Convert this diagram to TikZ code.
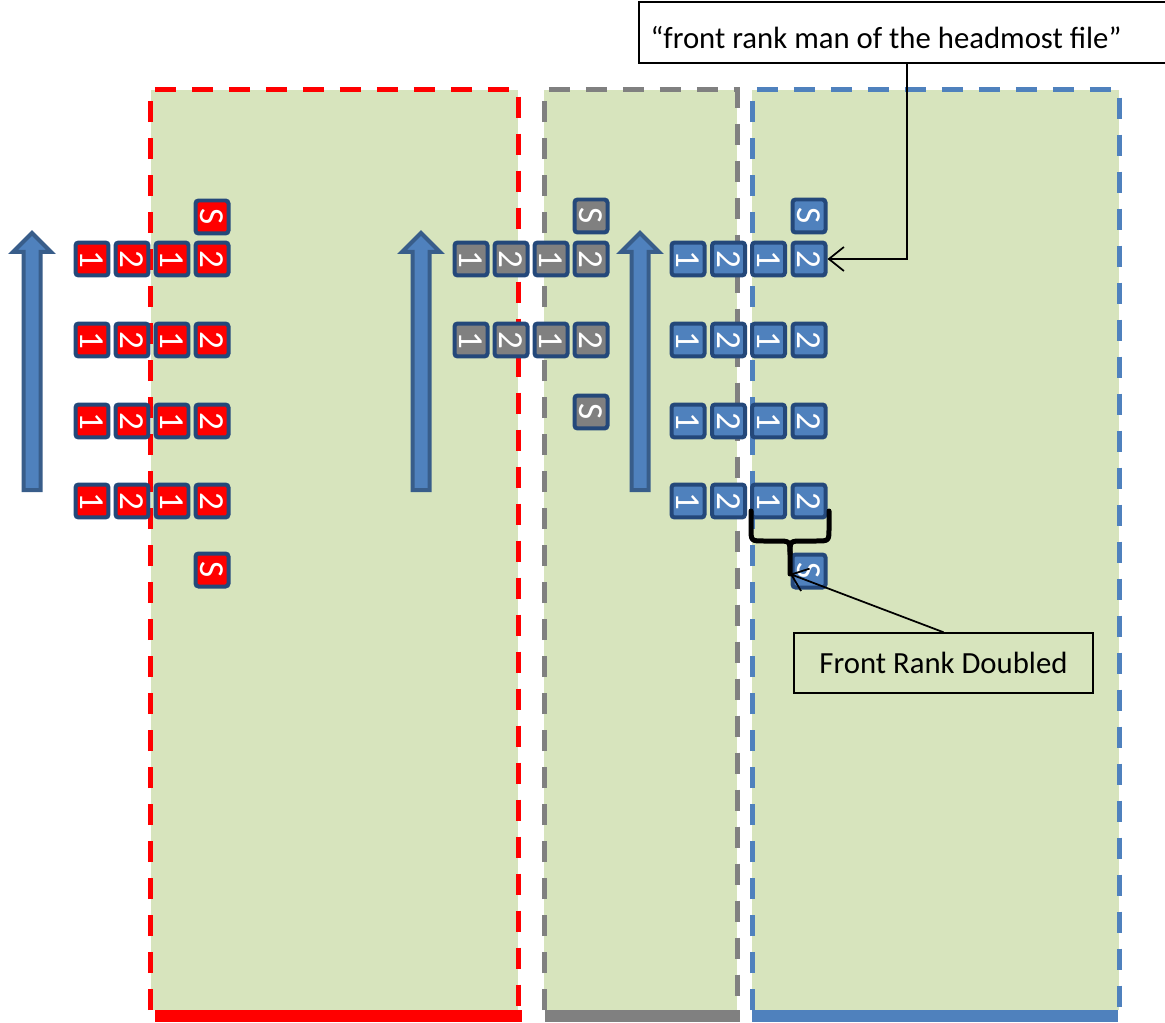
\documentclass[tikz,border=0pt]{standalone}
\usepackage{fontspec}
\setmainfont{Carlito}
\usetikzlibrary{arrows.meta}
\definecolor{grn}{HTML}{D7E4BD}
\definecolor{navy}{RGB}{36,72,122}
\definecolor{myblue}{HTML}{4F81BD}
\definecolor{mygray}{HTML}{808080}
\definecolor{arredge}{HTML}{385D8A}
\begin{document}
\begin{tikzpicture}[x=0.02cm,y=-0.02cm,
  sq/.style={draw=navy, line width=0.08cm, rounded corners=0.06cm, minimum size=0.66cm,
    inner sep=0pt, text=white, font=\fontsize{20}{20}\selectfont, rotate=-90},
  redsq/.style={sq, fill=red},
  graysq/.style={sq, fill=mygray},
  bluesq/.style={sq, fill=myblue},
  zonedash/.style={line width=0.1cm, dash pattern=on 0.42cm off 0.32cm},
  blockarr/.style={fill=myblue, draw=arredge, line width=0.08cm, line join=miter},
  label/.style={draw=black, line width=0.03cm, font=\fontsize{17.5}{20}\selectfont, inner sep=0pt},
  conn/.style={draw=black, line width=0.035cm, -{Straight Barb[length=0.3cm, width=0.48cm]}}
]
\useasboundingbox (0,0) rectangle (1165,1023);
\fill[white] (0,0) rectangle (1165,1023);

% zones
\fill[grn] (151,90) rectangle (518,1010);
\fill[grn] (544,90) rectangle (737,1010);
\fill[grn] (752,90) rectangle (1119,1010);
\draw[zonedash, red] (150,1010) -- (150,90) -- (518,90) -- (518,1010);
\draw[zonedash, mygray] (544,1010) -- (544,90) -- (737,90) -- (737,1010);
\draw[zonedash, myblue] (752,1010) -- (752,90) -- (1119,90) -- (1119,1010);
\fill[red] (155,1010) rectangle (522,1022);
\fill[mygray] (545,1010) rectangle (740,1022);
\fill[myblue] (752,1010) rectangle (1118,1022);

% block arrows
\foreach \c in {32,421,640}{
  \draw[blockarr] (\c,233) -- (\c+19,252) -- (\c+8.5,252) -- (\c+8.5,490)
     -- (\c-8.5,490) -- (\c-8.5,252) -- (\c-19,252) -- cycle;
}

% red group
\foreach \row/\y in {1/259,2/340,3/421,4/501}{
  \node[redsq] (r\row1) at (92,\y) {1};
  \node[redsq] (r\row2) at (132,\y) {2};
  \node[redsq] (r\row3) at (172,\y) {1};
  \node[redsq] (r\row4) at (212,\y) {2};
}
\node[redsq] (rS1) at (212,217) {S};
\node[redsq] (rS2) at (212,570) {S};

% gray group
\foreach \row/\y in {1/259,2/340}{
  \node[graysq] (g\row1) at (471,\y) {1};
  \node[graysq] (g\row2) at (511,\y) {2};
  \node[graysq] (g\row3) at (551,\y) {1};
  \node[graysq] (g\row4) at (591,\y) {2};
}
\node[graysq] (gS1) at (591,216) {S};
\node[graysq] (gS2) at (591,412) {S};

% blue group
\foreach \row/\y in {1/259,2/340,3/421,4/501}{
  \node[bluesq] (b\row1) at (688,\y) {1};
  \node[bluesq] (b\row2) at (728.5,\y) {2};
  \node[bluesq] (b\row3) at (768.5,\y) {1};
  \node[bluesq] (b\row4) at (809,\y) {2};
}
\node[bluesq] (bS1) at (809,216) {S};
\node[bluesq] (bS2) at (809,571) {S};

% brace
\coordinate (bracetip) at (790,574);
\draw[line width=0.1cm, line join=round, line cap=round]
  (751,511) -- (751,528) .. controls (751,541) .. (764,541) -- (777,541)
  .. controls (790,541) .. (790,554) -- (bracetip);
\draw[line width=0.1cm, line join=round, line cap=round]
  (829,511) -- (829,528) .. controls (829,541) .. (816,541) -- (803,541)
  .. controls (790,541) .. (790,554);

% callouts
\node[label, fill=white, minimum width=10.72cm, minimum height=1.22cm] (cbox) at (907,32.5) {};
\node[font=\fontsize{17.5}{20}\selectfont, inner sep=0pt] (ctext) at (886,38) {“front rank man of the headmost file”};
% squares are rotated by -90, so their north anchor lies on the right side
\draw[conn] (cbox.south) |- (b14.north);

\node[label, minimum width=5.98cm, minimum height=1.2cm] (frd) at (943.5,663) {Front Rank Doubled};
\draw[conn] (frd.north) -- (bracetip);
\end{tikzpicture}
\end{document}
